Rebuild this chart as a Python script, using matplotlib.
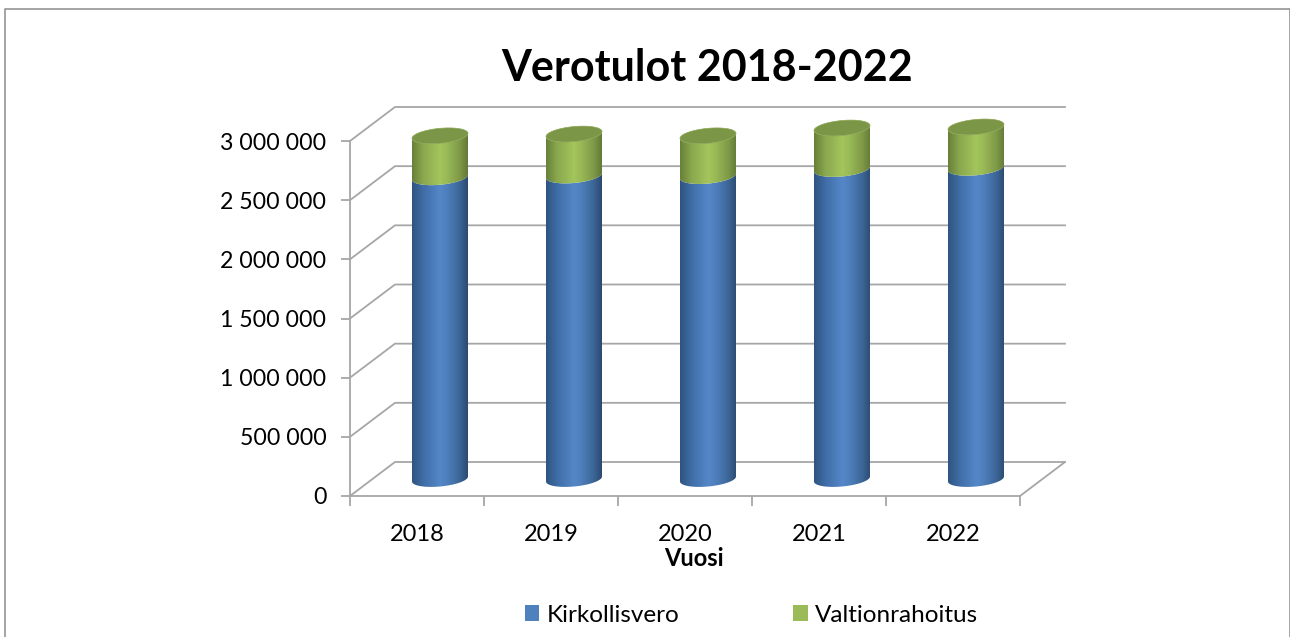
import matplotlib
matplotlib.use("Agg")
import matplotlib.pyplot as plt
from matplotlib.lines import Line2D
from matplotlib.patches import Polygon, Rectangle
import numpy as np

plt.rcParams['font.family'] = ['Lato', 'DejaVu Sans']

years = ['2018', '2019', '2020', '2021', '2022']
kirkollisvero = [2550000, 2565000, 2560000, 2620000, 2630000]
valtionrahoitus = [350000, 350000, 340000, 346000, 345000]
yticks = [0, 500000, 1000000, 1500000, 2000000, 2500000, 3000000]
ylabels = ['0', '500 000', '1 000 000', '1 500 000', '2 000 000', '2 500 000', '3 000 000']

W, H = 1290, 637
left, right, top, bottom = 350, 1020, 141, 496
grey = '#a6a6a6'

# pixels per data unit
sx = (right - left) / 5
sy = (bottom - top) / 3000000
# depth of the fake 3d box
dx = 45 / sx
dy = 34 / sy

blue_cols = ['#2f5480', '#3f6da6', '#5587c8', '#4f80bd', '#3c6698', '#2c4a70']
green_cols = ['#67803a', '#8aa84e', '#a3c55c', '#9aba56', '#7f9a48', '#627a36']
top_col = '#7b9646'

fig = plt.figure(figsize=(W / 100, H / 100), dpi=100)
ax = fig.add_axes([left / W, 1 - bottom / H, (right - left) / W, (bottom - top) / H])
ax.patch.set_alpha(0)

# outer chart frame
fig.add_artist(Line2D([5 / W, 5 / W, 1290 / W, 1290 / W], [0, 1 - 9 / H, 1 - 9 / H, 0],
                      color='#8c8c8c', lw=1.1, transform=fig.transFigure))

# back wall gridlines and side wall lines
for v in yticks:
    ax.plot([0, dx, 5 + dx], [v, v + dy, v + dy], color=grey, lw=1.3, zorder=1, clip_on=False,
            solid_joinstyle='miter')
ax.plot([5, 5 + dx], [0, dy], color=grey, lw=1.3, zorder=1, clip_on=False)


def ellipse(cx, cy, a0, a1):
    t = np.linspace(a0, a1, 60)
    a = 28 / sx
    xs = cx + a * np.cos(t)
    ys = cy + (2.5 * np.cos(t) + 7.5 * np.sin(t)) / sy
    return np.column_stack([xs, ys])


def segment(cx, y0, y1, cols, z):
    # cylinder piece: lower half of the bottom ellipse, back along lower half of the top one
    lo = ellipse(cx, y0, np.pi, 2 * np.pi)
    hi = ellipse(cx, y1, np.pi, 2 * np.pi)[::-1]
    poly = Polygon(np.vstack([lo, hi]), closed=True, fc='none', ec='none', transform=ax.transData)
    ax.add_patch(poly)
    a = 28 / sx
    grad = np.array([matplotlib.colors.to_rgb(c) for c in cols])
    pos = [0, 0.2, 0.5, 0.62, 0.85, 1]
    u = np.linspace(0, 1, 200)
    img = np.column_stack([np.interp(u, pos, grad[:, i]) for i in range(3)])[None, :, :]
    im = ax.imshow(img, extent=[cx - a, cx + a, y0 - 20 / sy, y1 + 20 / sy], aspect='auto',
                   zorder=z, interpolation='bilinear', origin='lower')
    im.set_clip_path(poly)
    im.set_clip_box(fig.bbox)


for i in range(len(years)):
    cx = i + 0.5 + dx / 2 + 0.5 / sx
    y0 = dy / 2
    y1 = kirkollisvero[i] + dy / 2
    y2 = kirkollisvero[i] + valtionrahoitus[i] + dy / 2
    segment(cx, y0, y1, blue_cols, 3)
    segment(cx, y1, y2, green_cols, 4)
    ax.add_patch(Polygon(ellipse(cx, y2, 0, 2 * np.pi), closed=True, fc=top_col, ec='#8aa552',
                         lw=0.5, zorder=5, clip_on=False))

ax.set_xlim(0, 5)
ax.set_ylim(0, 3000000)

for s in ['top', 'right']:
    ax.spines[s].set_visible(False)
for s in ['left', 'bottom']:
    ax.spines[s].set_color(grey)
    ax.spines[s].set_linewidth(1.3)
    ax.spines[s].set_zorder(2)

ax.set_yticks(yticks)
ax.set_yticklabels(ylabels)
ax.set_xticks(range(6))
ax.set_xticklabels([])
ax.set_xticks(np.arange(5) + 0.5, labels=years, minor=True)
ax.tick_params(axis='y', length=6.5, width=1.3, color=grey, labelsize=16.7, pad=10.5, labelcolor='black')
ax.tick_params(axis='x', which='major', length=7, width=1.3, color=grey)
ax.tick_params(axis='x', which='minor', length=0, labelsize=17, pad=20, labelcolor='black')

fig.text(694 / W, 1 - 559 / H, 'Vuosi', fontsize=17, fontweight='bold', ha='center', va='center')
fig.text(707.5 / W, 1 - 68 / H, 'Verotulot 2018-2022', fontsize=31, fontweight='bold',
         ha='center', va='center')

handles = [Rectangle((0, 0), 1, 1, fc='#4f81bd'), Rectangle((0, 0), 1, 1, fc='#9bbb59')]
fig.legend(handles, ['Kirkollisvero', 'Valtionrahoitus'], loc='center', ncol=2,
           bbox_to_anchor=(751.5 / W, 1 - 615 / H), frameon=False, fontsize=17.5,
           handlelength=0.6, handleheight=0.6, handletextpad=0.3, columnspacing=4.7,
           borderpad=0)

fig.savefig('out.png', dpi=100)
